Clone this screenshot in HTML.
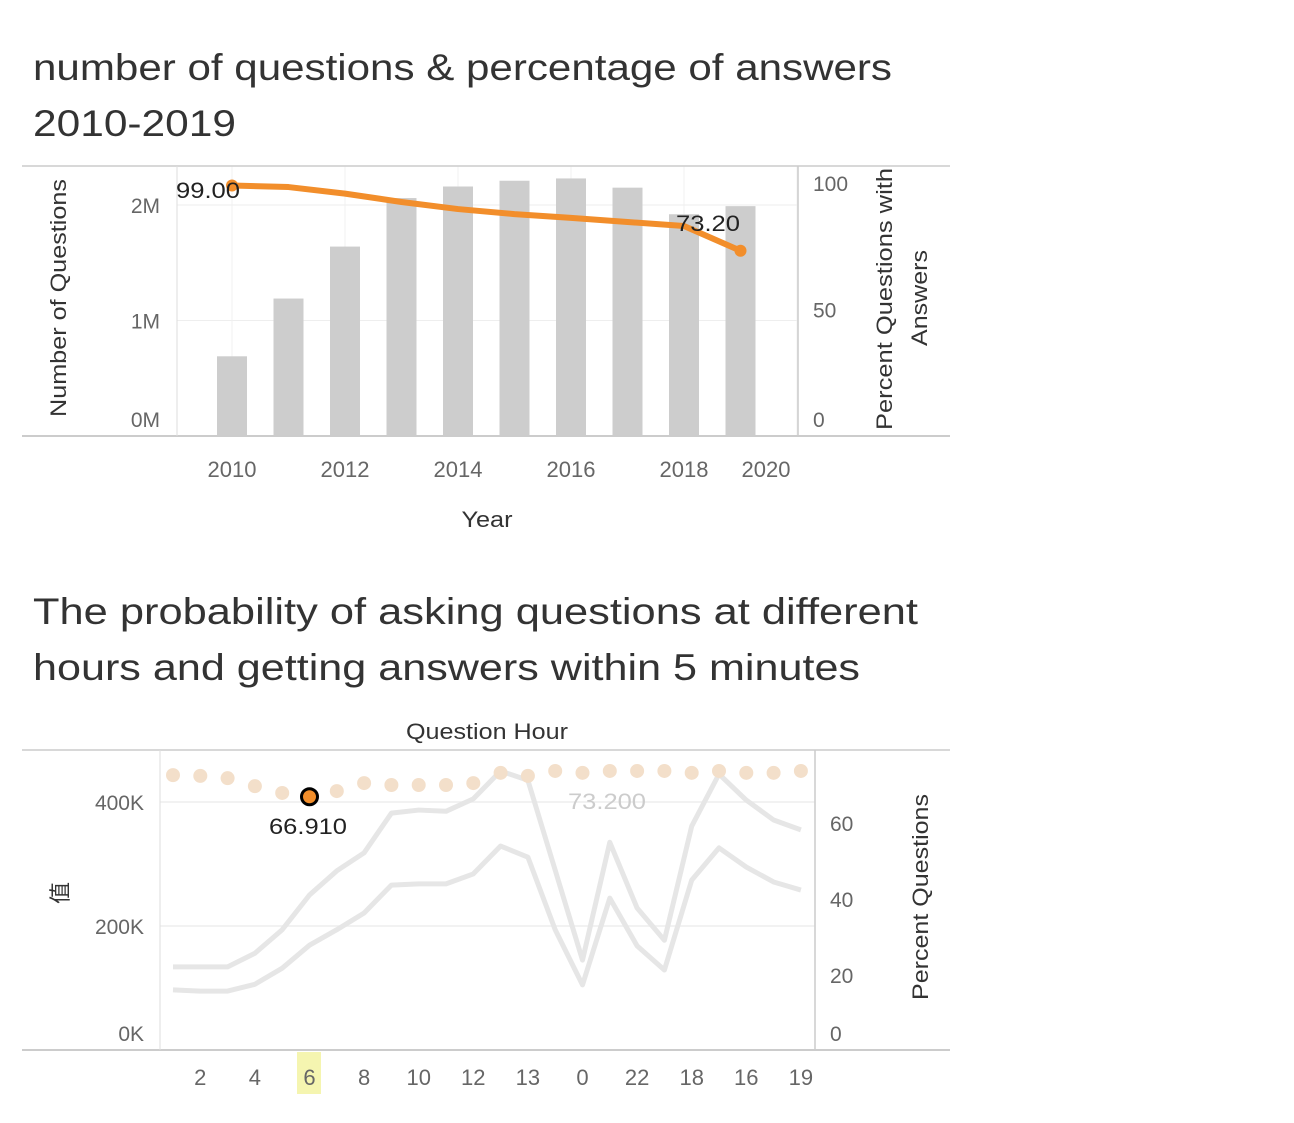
<!DOCTYPE html>
<html><head><meta charset="utf-8"><style>
body{margin:0;background:#fff;width:1294px;height:1118px;overflow:hidden;font-family:"Liberation Sans","Noto Sans CJK SC",sans-serif}
svg text{font-family:"Liberation Sans","Noto Sans CJK SC",sans-serif}
</style></head><body>
<svg id="s" width="1294" height="1118">
<text x="33" y="80" font-size="37" fill="#333" textLength="859" lengthAdjust="spacingAndGlyphs">number of questions &amp; percentage of answers</text>
<text x="33" y="136" font-size="37" fill="#333" textLength="203" lengthAdjust="spacingAndGlyphs">2010-2019</text>
<text x="33" y="624" font-size="37" fill="#333" textLength="885" lengthAdjust="spacingAndGlyphs">The probability of asking questions at different</text>
<text x="33" y="680" font-size="37" fill="#333" textLength="827" lengthAdjust="spacingAndGlyphs">hours and getting answers within 5 minutes</text>
<g id="top"></g><g id="bot"></g>
</svg>
<script>
const years=[2010,2011,2012,2013,2014,2015,2016,2017,2018,2019];
const questions=[0.69,1.19,1.64,2.06,2.16,2.21,2.23,2.15,1.92,1.99];
const pctAnswered=[99.0,98.4,95.8,92.5,89.7,87.7,86.2,84.6,83.0,73.2];
const yearTicks=[2010,2012,2014,2016,2018,2020];
const qTicks=[0,1,2];
const pTicks=[0,50,100];
const hours=["1","2","3","4","5","6","7","8","9","10","11","12","15","13","23","0","21","22","20","18","17","16","14","19"];
const hourPct=[72.6,72.4,71.8,69.7,67.9,66.91,68.4,70.5,70,70,70,70.5,73.2,72.4,73.7,73.2,73.7,73.7,73.7,73.2,73.7,73.2,73.2,73.7];
const seriesA=[134,134,134,156,194,250,289,318,382,387,385,405,450,435,290,145,335,229,177,361,445,403,371,355];
const seriesB=[97,95,95,106,132,169,194,221,266,268,268,284,329,311,194,105,245,168,129,274,326,295,271,258];
const valTicks=[0,200,400];
const pct2Ticks=[0,20,40,60];
const NS='http://www.w3.org/2000/svg';
function mk(p,tag,a,txt){const e=document.createElementNS(NS,tag);for(const k in a)e.setAttribute(k,a[k]);if(txt!==undefined)e.textContent=txt;p.appendChild(e);return e;}
const T=document.getElementById('top');
const xY=y=>232+(y-2010)*56.5, yQ=v=>436-v*115.5, yP=v=>436-v*2.53;
qTicks.forEach(v=>{if(v>0)mk(T,'line',{x1:177,x2:798,y1:yQ(v),y2:yQ(v),stroke:'#eee'});});
yearTicks.forEach(v=>{mk(T,'line',{x1:xY(v),x2:xY(v),y1:166,y2:436,stroke:'#f0f0f0'});});
years.forEach((y,i)=>{const b=mk(T,'rect',{x:xY(y)-15,y:yQ(questions[i]),width:30,height:436-yQ(questions[i]),fill:'#cdcdcd'});

});
mk(T,'line',{x1:22,x2:950,y1:166,y2:166,stroke:'#ccc','stroke-width':1.5});
mk(T,'line',{x1:22,x2:950,y1:436,y2:436,stroke:'#ccc','stroke-width':2});
mk(T,'line',{x1:177,x2:177,y1:166,y2:436,stroke:'#ddd'});
mk(T,'line',{x1:798,x2:798,y1:166,y2:436,stroke:'#ccc','stroke-width':1.5});
let d='';years.forEach((y,i)=>{d+=(i?'L':'M')+xY(y)+','+yP(pctAnswered[i]);});
const ln=mk(T,'path',{d:d,fill:'none',stroke:'#f28e2b','stroke-width':6,'stroke-linejoin':'round'});


[0,years.length-1].forEach(i=>{mk(T,'circle',{cx:xY(years[i]),cy:yP(pctAnswered[i]),r:6,fill:'#f28e2b'});});
mk(T,'text',{x:176,y:198,'font-size':22,fill:'#222',textLength:64,lengthAdjust:'spacingAndGlyphs'},pctAnswered[0].toFixed(2));
mk(T,'text',{x:676,y:231,'font-size':22,fill:'#222',textLength:64,lengthAdjust:'spacingAndGlyphs'},pctAnswered[9].toFixed(2));
qTicks.forEach(v=>{const t=mk(T,'text',{x:160,y:v==0?427:yQ(v)+8,'font-size':21,fill:'#666','text-anchor':'end'},v+'M');

});
pTicks.forEach(v=>{const t=mk(T,'text',{x:813,y:v==0?427:yP(v)+8,'font-size':21,fill:'#666'},v);

});
yearTicks.forEach(v=>{const t=mk(T,'text',{x:v==2020?766:xY(v),y:477,'font-size':22,fill:'#666','text-anchor':'middle'},v);

});
mk(T,'text',{x:487,y:527,'font-size':22,fill:'#333','text-anchor':'middle',textLength:51,lengthAdjust:'spacingAndGlyphs'},'Year');
mk(T,'text',{transform:'translate(66,298) rotate(-90)','font-size':22,fill:'#333','text-anchor':'middle',textLength:238,lengthAdjust:'spacingAndGlyphs'},'Number of Questions');
mk(T,'text',{transform:'translate(892,299) rotate(-90)','font-size':22,fill:'#333','text-anchor':'middle',textLength:262,lengthAdjust:'spacingAndGlyphs'},'Percent Questions with');
mk(T,'text',{transform:'translate(927,298) rotate(-90)','font-size':22,fill:'#333','text-anchor':'middle',textLength:96,lengthAdjust:'spacingAndGlyphs'},'Answers');
const B=document.getElementById('bot');
const xH=i=>173+i*27.3, yV=v=>1050-v*0.62, yP2=v=>1051-v*3.8;
valTicks.forEach(v=>{if(v>0)mk(B,'line',{x1:160,x2:815,y1:yV(v),y2:yV(v),stroke:'#eee','stroke-width':1.5});});
mk(B,'line',{x1:22,x2:950,y1:750,y2:750,stroke:'#ccc','stroke-width':1.5});
mk(B,'line',{x1:22,x2:950,y1:1050,y2:1050,stroke:'#ccc','stroke-width':2});
mk(B,'line',{x1:160,x2:160,y1:750,y2:1050,stroke:'#ddd'});
mk(B,'line',{x1:815,x2:815,y1:750,y2:1050,stroke:'#ccc','stroke-width':1.5});
mk(B,'rect',{x:297,y:1052,width:24,height:42,fill:'#f5f5b0'});
[seriesA,seriesB].forEach((s,k)=>{let dd='';s.forEach((v,i)=>{dd+=(i?'L':'M')+xH(i)+','+yV(v);});
const p=mk(B,'path',{d:dd,fill:'none',stroke:'#e6e6e6','stroke-width':5,'stroke-linejoin':'round'});

});
hourPct.forEach((v,i)=>{const hi=i==5;const c=mk(B,'circle',{cx:xH(i),cy:yP2(v),r:hi?8:7,fill:hi?'#f28e2b':'#f3dfca',stroke:hi?'#000':'none','stroke-width':3});

});
mk(B,'text',{x:308,y:834,'font-size':22,fill:'#222','text-anchor':'middle',textLength:78,lengthAdjust:'spacingAndGlyphs'},hourPct[5].toFixed(3));
mk(B,'text',{x:607,y:809,'font-size':22,fill:'#ccc','text-anchor':'middle',textLength:78,lengthAdjust:'spacingAndGlyphs'},'73.200');
valTicks.forEach(v=>{const t=mk(B,'text',{x:144,y:v==0?1041:yV(v)+8,'font-size':21,fill:'#666','text-anchor':'end'},v+'K');

});
pct2Ticks.forEach(v=>{const t=mk(B,'text',{x:830,y:v==0?1041:yP2(v)+8,'font-size':21,fill:'#666'},v);

});
hours.forEach((h,i)=>{if(i%2==1){const t=mk(B,'text',{x:xH(i),y:1085,'font-size':22,fill:'#666','text-anchor':'middle'},h);

}});
mk(B,'text',{x:487,y:739,'font-size':22,fill:'#333','text-anchor':'middle',textLength:162,lengthAdjust:'spacingAndGlyphs'},'Question Hour');
mk(B,'text',{transform:'translate(68,893) rotate(-90)','font-size':22,fill:'#333','text-anchor':'middle'},'值');
mk(B,'text',{transform:'translate(928,897) rotate(-90)','font-size':22,fill:'#333','text-anchor':'middle',textLength:206,lengthAdjust:'spacingAndGlyphs'},'Percent Questions');
</script>
</body></html>
